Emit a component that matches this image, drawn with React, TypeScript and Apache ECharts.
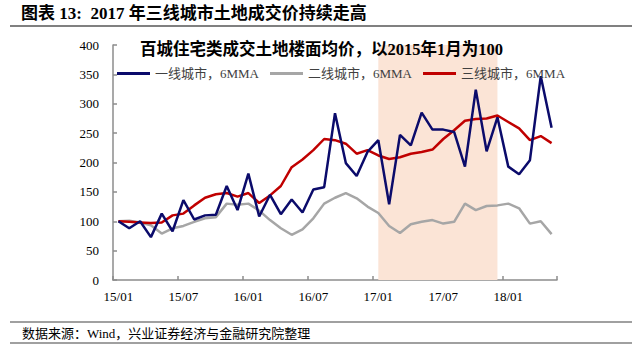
import React, { useEffect, useRef } from "react";
import * as echarts from "echarts";

const months = [
  "15/01","15/02","15/03","15/04","15/05","15/06","15/07","15/08","15/09","15/10","15/11","15/12",
  "16/01","16/02","16/03","16/04","16/05","16/06","16/07","16/08","16/09","16/10","16/11","16/12",
  "17/01","17/02","17/03","17/04","17/05","17/06","17/07","17/08","17/09","17/10","17/11","17/12",
  "18/01","18/02","18/03","18/04","18/05",
];

const tier1 = [
  100, 88, 100, 73, 113, 83, 136, 103, 110, 111, 160, 119,
  181, 108, 145, 112, 137, 115, 154, 158, 284, 199, 177, 218,
  238, 129, 247, 229, 285, 256, 256, 252, 193, 324, 219, 277,
  193, 180, 204, 347, 259,
];

const tier2 = [
  100, 101, 98, 93, 79, 88, 92, 99, 105, 107, 130, 128,
  130, 118, 102, 88, 77, 86, 105, 130, 140, 148, 139, 125,
  114, 92, 80, 95, 99, 102, 96, 99, 130, 119, 126, 127,
  130, 122, 96, 100, 78,
];

const tier3 = [
  100, 99, 98, 97, 98, 110, 113, 127, 140, 146, 148, 142,
  148, 131, 144, 160, 192, 205, 221, 240, 238, 232, 215, 221,
  212, 206, 209, 215, 218, 222, 240, 255, 271, 274, 275, 280,
  269, 258, 238, 245, 233,
];

const seriesNames = ["一线城市，6MMA", "二线城市，6MMA", "三线城市，6MMA"];
const shadeRange = ["17/01", "17/12"];
const yTicks = { min: 0, max: 400, interval: 50 };

const FONT = '"Liberation Serif", "Noto Sans CJK SC", serif';

export default function App() {
  const ref = useRef<HTMLDivElement>(null);

  useEffect(() => {
    document.body.style.margin = "0";
    if (!ref.current) return;
    const chart = echarts.init(ref.current, undefined, { renderer: "svg" });
    const axisColor = "#8c8c8c";
    const showEvery6 = (i: number) => i % 6 === 0;
    const option: any = {
      animation: false,
      backgroundColor: "#ffffff",
      grid: { left: 113, right: 83, top: 45, bottom: 72, containLabel: false },
      legend: {
        data: seriesNames,
        left: 117,
        top: 67,
        padding: 0,
        icon: "rect",
        itemWidth: 33,
        itemHeight: 3,
        itemGap: 11,
        textStyle: { fontSize: 13, fontFamily: FONT, color: "#404040" },
      },
      xAxis: {
        type: "category",
        data: months,
        boundaryGap: true,
        axisLine: { lineStyle: { color: axisColor, width: 1.5 } },
        axisTick: {
          show: true,
          inside: true,
          length: 4,
          interval: showEvery6,
          lineStyle: { color: axisColor, width: 1.5 },
        },
        axisLabel: {
          interval: showEvery6,
          color: "#000",
          fontSize: 13,
          fontFamily: FONT,
          margin: 10,
        },
        splitLine: { show: false },
      },
      yAxis: {
        type: "value",
        min: yTicks.min,
        max: yTicks.max,
        interval: yTicks.interval,
        splitLine: { show: false },
        axisLine: { show: true, lineStyle: { color: axisColor, width: 1.5 } },
        axisTick: { show: true, inside: true, length: 4, lineStyle: { color: axisColor, width: 1.5 } },
        axisLabel: { color: "#000", fontSize: 13, fontFamily: FONT, margin: 14 },
      },
      series: [
        {
          name: "bg",
          type: "line",
          data: months.map(() => null),
          z: 1,
          silent: true,
          markArea: {
            silent: true,
            itemStyle: { color: "#fbe4d6" },
            data: [[{ xAxis: shadeRange[0] }, { xAxis: shadeRange[1] }]],
          },
        },
        {
          name: seriesNames[1],
          type: "line",
          data: tier2,
          symbol: "none",
          z: 3,
          itemStyle: { color: "#a6a6a6" },
          lineStyle: { color: "#a6a6a6", width: 2.5 },
        },
        {
          name: seriesNames[2],
          type: "line",
          data: tier3,
          symbol: "none",
          z: 3,
          itemStyle: { color: "#c00000" },
          lineStyle: { color: "#c00000", width: 2.5 },
        },
        {
          name: seriesNames[0],
          type: "line",
          data: tier1,
          symbol: "none",
          z: 3,
          itemStyle: { color: "#0b0b6b" },
          lineStyle: { color: "#0b0b6b", width: 2.5 },
        },
      ],
      graphic: [
        {
          type: "text",
          x: 21,
          y: 13,
          style: {
            text: "图表 13:  2017 年三线城市土地成交价持续走高",
            fontSize: 17,
            fontWeight: "bold",
            fontFamily: FONT,
            fill: "#000",
            verticalAlign: "middle",
          },
        },
        {
          type: "line",
          shape: { x1: 10, y1: 26, x2: 632, y2: 26 },
          style: { stroke: "#808080", lineWidth: 2 },
        },
        {
          type: "text",
          x: 140,
          y: 49,
          z: 10,
          style: {
            text: "百城住宅类成交土地楼面均价，以2015年1月为100",
            fontSize: 16.5,
            fontWeight: "bold",
            fontFamily: FONT,
            fill: "#000",
            verticalAlign: "middle",
          },
        },
        {
          type: "line",
          shape: { x1: 10, y1: 322, x2: 632, y2: 322 },
          style: { stroke: "#808080", lineWidth: 1.5 },
        },
        {
          type: "text",
          x: 22,
          y: 333,
          style: {
            text: "数据来源：Wind，兴业证券经济与金融研究院整理",
            fontSize: 13,
            fontFamily: FONT,
            fill: "#000",
            verticalAlign: "middle",
          },
        },
        {
          type: "line",
          shape: { x1: 10, y1: 343, x2: 632, y2: 343 },
          style: { stroke: "#808080", lineWidth: 1.5 },
        },
      ],
    };
    chart.setOption(option);
    return () => chart.dispose();
  }, []);

  return <div ref={ref} style={{ width: 640, height: 352 }} />;
}
